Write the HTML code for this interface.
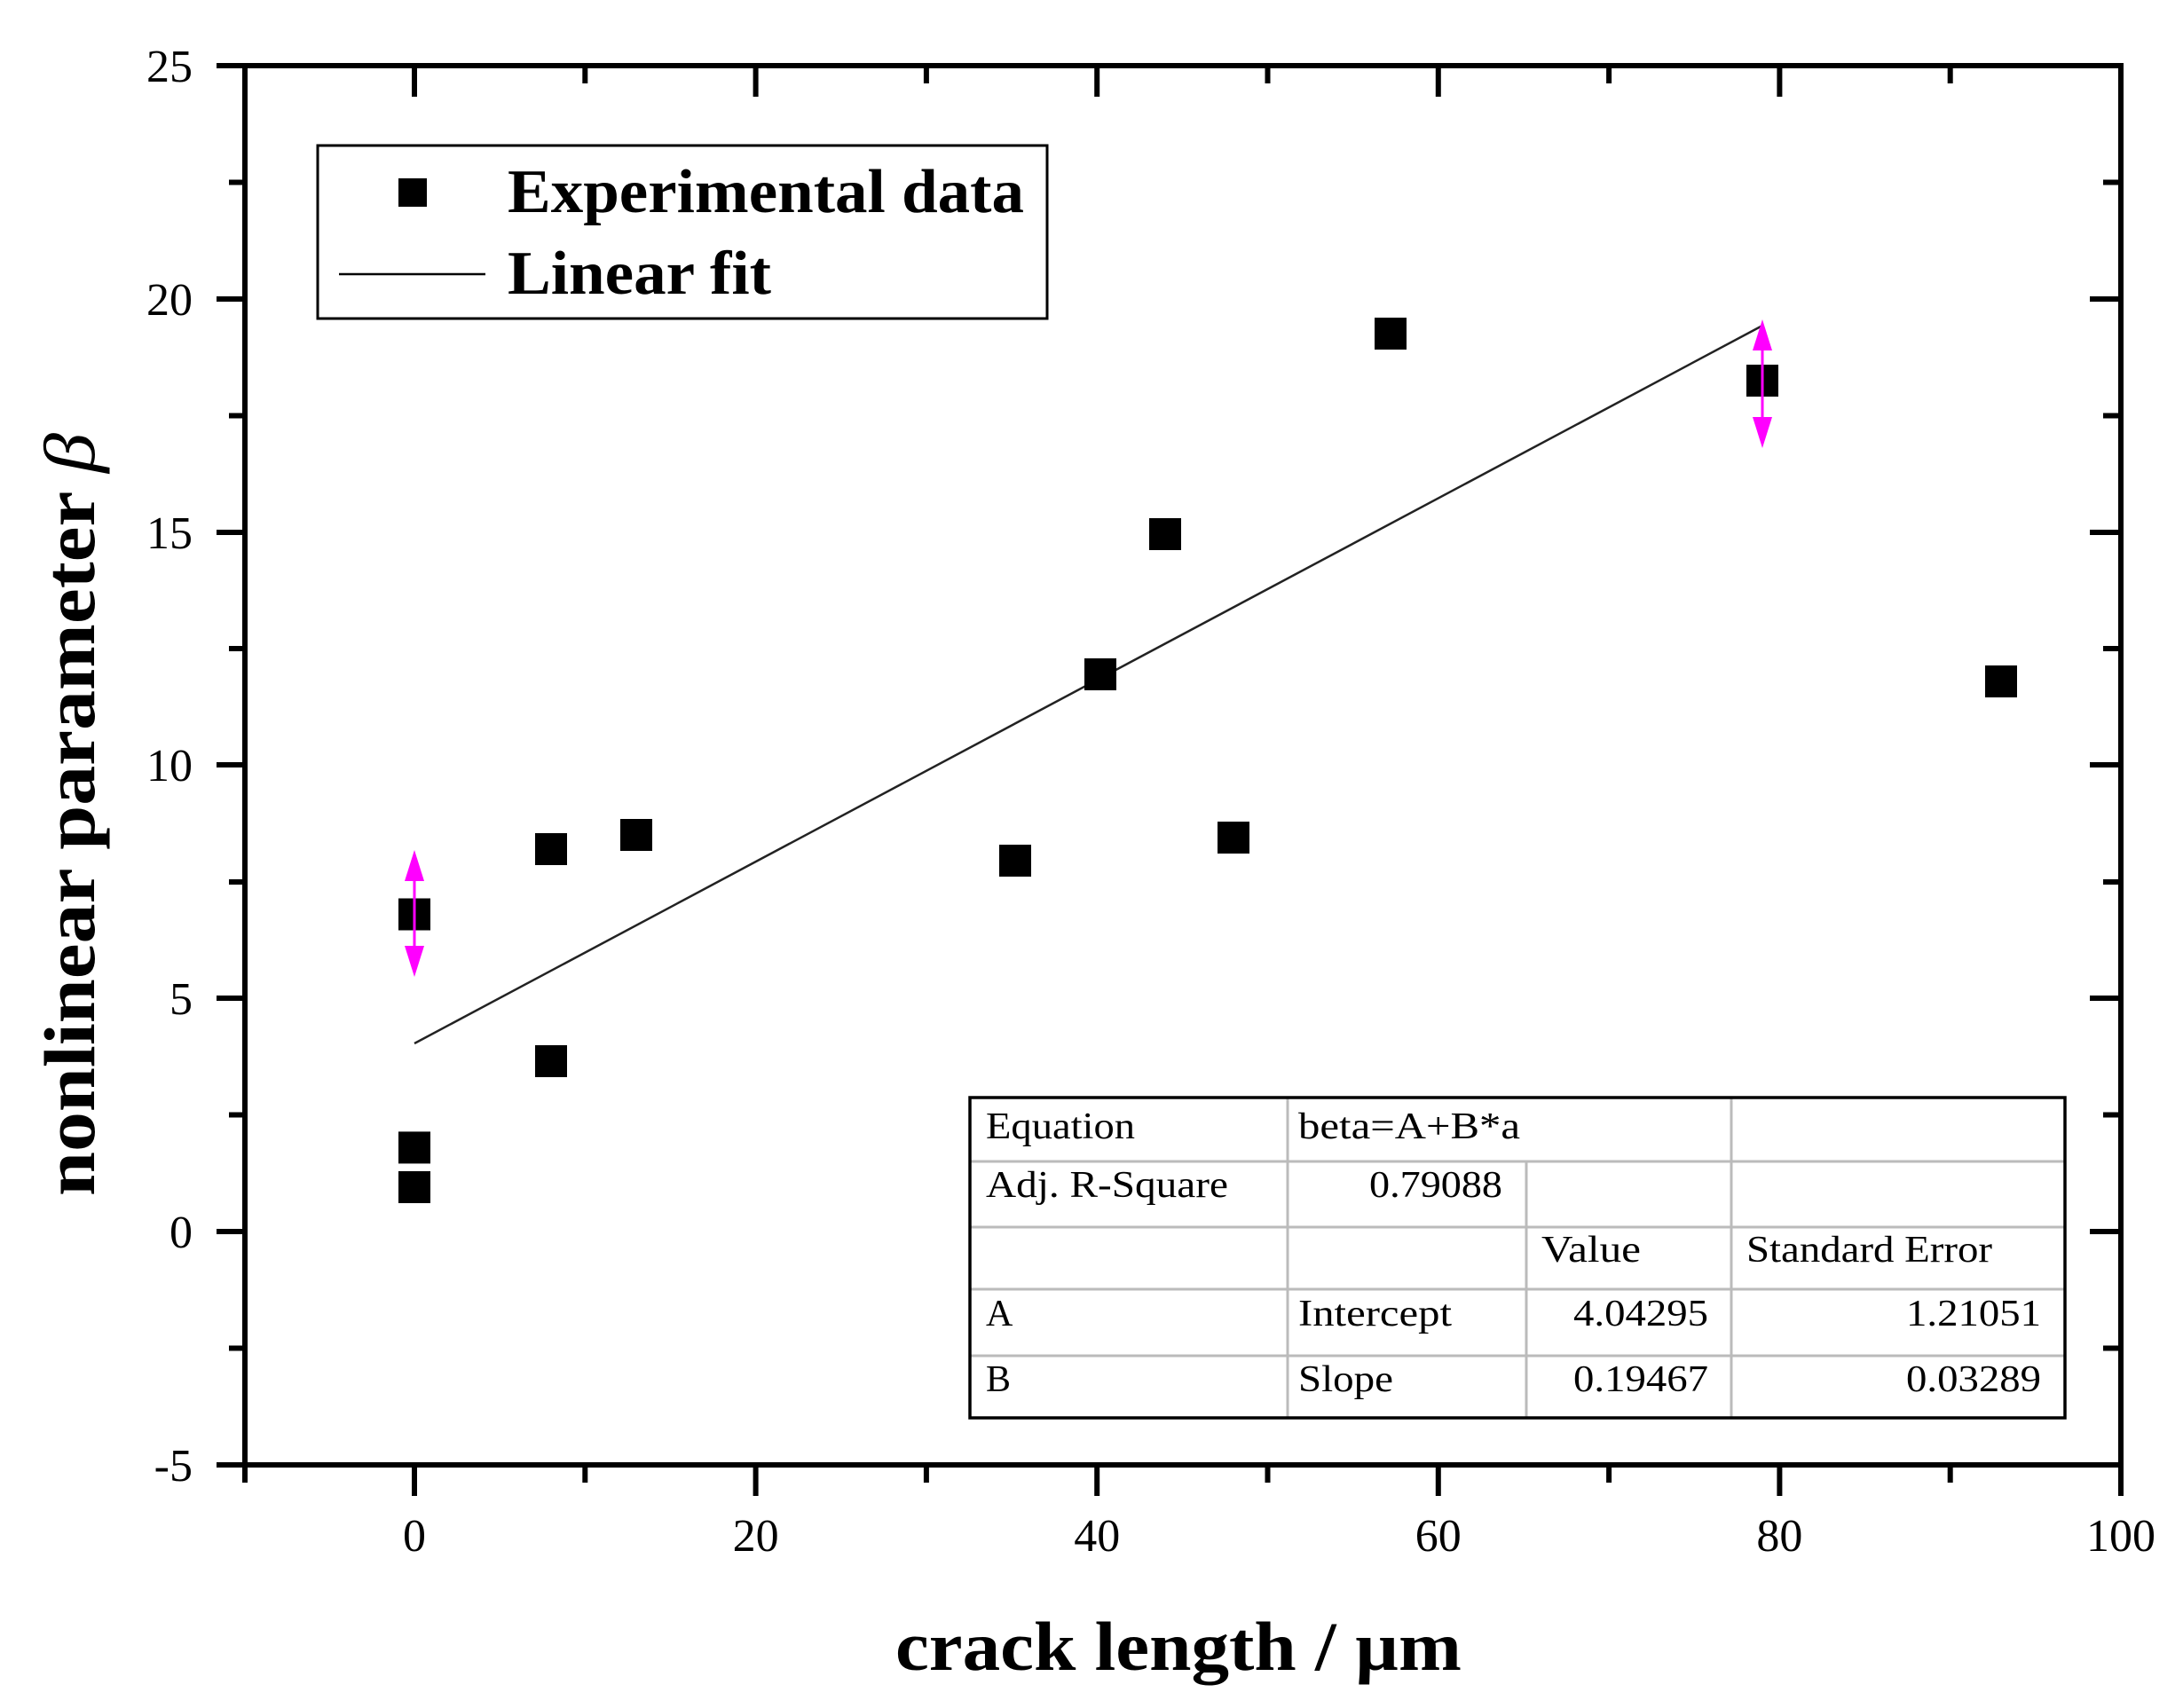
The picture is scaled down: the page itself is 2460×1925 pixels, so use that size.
<!DOCTYPE html>
<html><head><meta charset="utf-8"><style>
html,body{margin:0;padding:0;background:#fff;}
svg{display:block;}
text{font-family:"Liberation Serif",serif;fill:#000;}
</style></head><body>
<svg width="2460" height="1925" viewBox="0 0 2460 1925" xmlns="http://www.w3.org/2000/svg">
<rect width="2460" height="1925" fill="#fff"/>
<g stroke="#000" stroke-width="6" fill="none">
<rect x="276" y="74" width="2114" height="1577"/>
</g>
<g stroke="#000" stroke-width="6">
<!-- bottom ticks major -->
<line x1="467" y1="1651" x2="467" y2="1686"/><line x1="851.6" y1="1651" x2="851.6" y2="1686"/><line x1="1236.2" y1="1651" x2="1236.2" y2="1686"/><line x1="1620.8" y1="1651" x2="1620.8" y2="1686"/><line x1="2005.4" y1="1651" x2="2005.4" y2="1686"/><line x1="2390" y1="1651" x2="2390" y2="1686"/>
<line x1="276" y1="1651" x2="276" y2="1671"/><line x1="659.3" y1="1651" x2="659.3" y2="1671"/><line x1="1043.9" y1="1651" x2="1043.9" y2="1671"/><line x1="1428.5" y1="1651" x2="1428.5" y2="1671"/><line x1="1813.1" y1="1651" x2="1813.1" y2="1671"/><line x1="2197.7" y1="1651" x2="2197.7" y2="1671"/>
<!-- top ticks inward -->
<line x1="467" y1="74" x2="467" y2="109"/><line x1="851.6" y1="74" x2="851.6" y2="109"/><line x1="1236.2" y1="74" x2="1236.2" y2="109"/><line x1="1620.8" y1="74" x2="1620.8" y2="109"/><line x1="2005.4" y1="74" x2="2005.4" y2="109"/>
<line x1="659.3" y1="74" x2="659.3" y2="94"/><line x1="1043.9" y1="74" x2="1043.9" y2="94"/><line x1="1428.5" y1="74" x2="1428.5" y2="94"/><line x1="1813.1" y1="74" x2="1813.1" y2="94"/><line x1="2197.7" y1="74" x2="2197.7" y2="94"/>
<!-- left ticks outward -->
<line x1="244" y1="74" x2="276" y2="74"/><line x1="244" y1="337" x2="276" y2="337"/><line x1="244" y1="600" x2="276" y2="600"/><line x1="244" y1="862" x2="276" y2="862"/><line x1="244" y1="1125" x2="276" y2="1125"/><line x1="244" y1="1388" x2="276" y2="1388"/><line x1="244" y1="1651" x2="276" y2="1651"/>
<line x1="258" y1="205.5" x2="276" y2="205.5"/><line x1="258" y1="468.5" x2="276" y2="468.5"/><line x1="258" y1="731" x2="276" y2="731"/><line x1="258" y1="994" x2="276" y2="994"/><line x1="258" y1="1256.5" x2="276" y2="1256.5"/><line x1="258" y1="1519.5" x2="276" y2="1519.5"/>
<!-- right ticks inward -->
<line x1="2355" y1="337" x2="2390" y2="337"/><line x1="2355" y1="600" x2="2390" y2="600"/><line x1="2355" y1="862" x2="2390" y2="862"/><line x1="2355" y1="1125" x2="2390" y2="1125"/><line x1="2355" y1="1388" x2="2390" y2="1388"/>
<line x1="2370" y1="205.5" x2="2390" y2="205.5"/><line x1="2370" y1="468.5" x2="2390" y2="468.5"/><line x1="2370" y1="731" x2="2390" y2="731"/><line x1="2370" y1="994" x2="2390" y2="994"/><line x1="2370" y1="1256.5" x2="2390" y2="1256.5"/><line x1="2370" y1="1519.5" x2="2390" y2="1519.5"/>
</g>
<!-- tick labels -->
<g font-size="52" text-anchor="end">
<text x="217" y="92">25</text><text x="217" y="355">20</text><text x="217" y="618">15</text><text x="217" y="880">10</text><text x="217" y="1143">5</text><text x="217" y="1406">0</text><text x="217" y="1669">-5</text>
</g>
<g font-size="52" text-anchor="middle">
<text x="467" y="1748">0</text><text x="851.6" y="1748">20</text><text x="1236.2" y="1748">40</text><text x="1620.8" y="1748">60</text><text x="2005.4" y="1748">80</text><text x="2390" y="1748">100</text>
</g>
<!-- axis titles -->
<text x="1009" y="1882" font-size="78" font-weight="bold" textLength="638" lengthAdjust="spacingAndGlyphs">crack length / µm</text>
<text transform="translate(106,1348) rotate(-90)" font-size="82" font-weight="bold" textLength="860" lengthAdjust="spacingAndGlyphs">nonlinear parameter <tspan font-style="italic" font-weight="normal">β</tspan></text>
<!-- fit line -->
<line x1="467" y1="1176" x2="1986" y2="367" stroke="#222" stroke-width="2.5"/>
<!-- error bars -->
<g stroke="#ff00ff" stroke-width="3" fill="#ff00ff">
<line x1="467" y1="965" x2="467" y2="1095"/>
<polygon points="467,958 456,993 478,993" stroke="none"/>
<polygon points="467,1101 456,1066 478,1066" stroke="none"/>
<line x1="1986" y1="367" x2="1986" y2="498"/>
<polygon points="1986,360 1975,395 1997,395" stroke="none"/>
<polygon points="1986,505 1975,470 1997,470" stroke="none"/>
</g>
<!-- data points -->
<g fill="#000">
<rect x="449" y="1012.5" width="36" height="36"/>
<rect x="449" y="1275.4" width="36" height="36"/>
<rect x="449" y="1320" width="36" height="36"/>
<rect x="603" y="939" width="36" height="36"/>
<rect x="603" y="1178" width="36" height="36"/>
<rect x="699" y="923" width="36" height="36"/>
<rect x="1126" y="952" width="36" height="36"/>
<rect x="1222" y="742" width="36" height="36"/>
<rect x="1295" y="584" width="36" height="36"/>
<rect x="1372" y="926" width="36" height="36"/>
<rect x="1549" y="358" width="36" height="36"/>
<rect x="1968" y="411" width="36" height="36"/>
<rect x="2237" y="750" width="36" height="36"/>
</g>
<!-- error bars over point at 0 -->
<g stroke="#ff00ff" stroke-width="3"><line x1="467" y1="1010" x2="467" y2="1050"/><line x1="1986" y1="410" x2="1986" y2="450"/></g>
<!-- legend -->
<rect x="358" y="164" width="822" height="195" fill="#fff" stroke="#000" stroke-width="3"/>
<rect x="449" y="201" width="32" height="32" fill="#000"/>
<line x1="382" y1="309" x2="547" y2="309" stroke="#000" stroke-width="2.5"/>
<text x="572" y="239" font-size="70" font-weight="bold" textLength="582" lengthAdjust="spacingAndGlyphs">Experimental data</text>
<text x="572" y="331" font-size="70" font-weight="bold" textLength="297" lengthAdjust="spacingAndGlyphs">Linear fit</text>
<!-- table -->
<g stroke="#bbb" stroke-width="3">
<line x1="1093" y1="1309" x2="2327" y2="1309"/><line x1="1093" y1="1383" x2="2327" y2="1383"/><line x1="1093" y1="1453" x2="2327" y2="1453"/><line x1="1093" y1="1528" x2="2327" y2="1528"/>
<line x1="1451" y1="1237" x2="1451" y2="1598"/><line x1="1720" y1="1309" x2="1720" y2="1598"/><line x1="1951" y1="1237" x2="1951" y2="1598"/>
</g>
<rect x="1093" y="1237" width="1234" height="361" fill="none" stroke="#000" stroke-width="3.5"/>
<g font-size="42">
<text x="1111" y="1283" textLength="168" lengthAdjust="spacingAndGlyphs">Equation</text>
<text x="1463" y="1283" textLength="250" lengthAdjust="spacingAndGlyphs">beta=A+B*a</text>
<text x="1111" y="1349" textLength="273" lengthAdjust="spacingAndGlyphs">Adj. R-Square</text>
<text x="1693" y="1349" text-anchor="end" textLength="150" lengthAdjust="spacingAndGlyphs">0.79088</text>
<text x="1737" y="1422" textLength="112" lengthAdjust="spacingAndGlyphs">Value</text>
<text x="1968" y="1422" textLength="277" lengthAdjust="spacingAndGlyphs">Standard Error</text>
<text x="1111" y="1494">A</text>
<text x="1463" y="1494" textLength="173" lengthAdjust="spacingAndGlyphs">Intercept</text>
<text x="1925" y="1494" text-anchor="end" textLength="152" lengthAdjust="spacingAndGlyphs">4.04295</text>
<text x="2300" y="1494" text-anchor="end" textLength="152" lengthAdjust="spacingAndGlyphs">1.21051</text>
<text x="1111" y="1568">B</text>
<text x="1463" y="1568" textLength="107" lengthAdjust="spacingAndGlyphs">Slope</text>
<text x="1925" y="1568" text-anchor="end" textLength="152" lengthAdjust="spacingAndGlyphs">0.19467</text>
<text x="2300" y="1568" text-anchor="end" textLength="152" lengthAdjust="spacingAndGlyphs">0.03289</text>
</g>
</svg>
</body></html>
